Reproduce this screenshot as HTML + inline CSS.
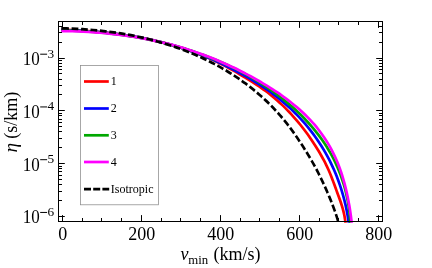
<!DOCTYPE html>
<html><head><meta charset="utf-8"><style>html,body{margin:0;padding:0;background:#fff}svg{display:block;will-change:transform}text{fill:#000}</style></head><body>
<svg width="432" height="268" viewBox="0 0 432 268">
<rect width="100%" height="100%" fill="#fff"/>
<defs><clipPath id="c"><rect x="58.50" y="21.50" width="324.00" height="201.20"/></clipPath></defs>
<g clip-path="url(#c)" fill="none" stroke-width="2.7" stroke-linejoin="round">
<path d="M61.33,29.78 C62.23,29.81 64.92,29.90 66.72,29.97 C68.51,30.04 70.31,30.12 72.11,30.20 C73.91,30.29 75.70,30.38 77.50,30.47 C79.30,30.57 81.10,30.68 82.90,30.79 C84.70,30.90 86.51,31.02 88.31,31.15 C90.11,31.28 91.91,31.42 93.71,31.57 C95.51,31.71 97.31,31.87 99.11,32.03 C100.91,32.19 102.71,32.37 104.51,32.55 C106.31,32.73 108.11,32.93 109.90,33.13 C111.70,33.33 113.50,33.54 115.29,33.77 C117.09,33.99 118.88,34.22 120.67,34.47 C122.46,34.71 124.25,34.96 126.04,35.23 C127.83,35.50 129.62,35.77 131.40,36.06 C133.19,36.35 134.97,36.65 136.75,36.97 C138.53,37.28 140.31,37.60 142.08,37.94 C143.86,38.28 145.63,38.63 147.40,38.99 C149.17,39.35 150.93,39.73 152.70,40.12 C154.46,40.51 156.22,40.91 157.97,41.33 C159.73,41.74 161.48,42.17 163.23,42.62 C164.98,43.06 166.73,43.52 168.47,44.00 C170.21,44.47 171.94,44.96 173.68,45.46 C175.41,45.96 177.14,46.48 178.86,47.01 C180.58,47.55 182.30,48.10 184.02,48.66 C185.73,49.23 187.44,49.81 189.14,50.41 C190.84,51.00 192.54,51.62 194.24,52.25 C195.93,52.88 197.62,53.53 199.30,54.19 C200.98,54.85 202.65,55.54 204.32,56.23 C205.99,56.93 207.65,57.65 209.30,58.38 C210.96,59.11 212.60,59.86 214.24,60.62 C215.87,61.39 217.50,62.17 219.12,62.97 C220.74,63.77 222.35,64.58 223.94,65.41 C225.54,66.24 227.13,67.09 228.70,67.96 C230.28,68.82 231.84,69.70 233.40,70.60 C234.95,71.49 236.49,72.42 238.02,73.33 C239.56,74.24 241.09,75.17 242.62,76.09 C244.16,77.01 245.69,77.92 247.22,78.85 C248.74,79.78 250.27,80.72 251.79,81.67 C253.31,82.62 254.83,83.59 256.33,84.57 C257.83,85.56 259.33,86.56 260.81,87.58 C262.29,88.61 263.76,89.65 265.21,90.72 C266.66,91.79 268.09,92.88 269.51,94.00 C270.92,95.11 272.32,96.25 273.70,97.41 C275.08,98.57 276.45,99.76 277.79,100.96 C279.14,102.16 280.46,103.39 281.77,104.63 C283.08,105.87 284.37,107.13 285.65,108.41 C286.92,109.69 288.18,110.99 289.42,112.30 C290.66,113.61 291.88,114.94 293.09,116.28 C294.29,117.63 295.48,118.99 296.65,120.36 C297.82,121.73 298.97,123.12 300.10,124.52 C301.23,125.92 302.35,127.33 303.45,128.76 C304.55,130.18 305.63,131.62 306.69,133.07 C307.76,134.52 308.80,135.98 309.83,137.45 C310.86,138.93 311.87,140.41 312.87,141.91 C313.86,143.41 314.84,144.92 315.80,146.44 C316.76,147.97 317.70,149.50 318.63,151.05 C319.55,152.59 320.46,154.15 321.35,155.72 C322.23,157.29 323.10,158.87 323.94,160.47 C324.79,162.06 325.61,163.67 326.40,165.29 C327.19,166.91 327.96,168.54 328.69,170.19 C329.42,171.83 330.12,173.50 330.79,175.17 C331.47,176.84 332.10,178.53 332.73,180.21 C333.37,181.90 333.97,183.60 334.59,185.29 C335.21,186.99 335.82,188.68 336.45,190.38 C337.07,192.07 337.71,193.76 338.32,195.45 C338.94,197.15 339.56,198.84 340.15,200.54 C340.73,202.24 341.31,203.95 341.84,205.67 C342.37,207.39 342.88,209.11 343.32,210.85 C343.77,212.60 344.18,214.35 344.52,216.13 C344.86,217.91 345.13,219.96 345.35,221.52 C345.56,223.08 345.72,224.83 345.80,225.49" stroke="#ff0000"/>
<path d="M61.32,30.15 C62.23,30.17 64.95,30.23 66.77,30.28 C68.59,30.33 70.41,30.39 72.23,30.46 C74.05,30.53 75.87,30.60 77.69,30.69 C79.51,30.78 81.33,30.87 83.15,30.97 C84.97,31.08 86.79,31.19 88.62,31.31 C90.44,31.44 92.26,31.57 94.08,31.71 C95.90,31.85 97.72,32.01 99.55,32.17 C101.37,32.33 103.19,32.50 105.01,32.69 C106.82,32.87 108.64,33.06 110.46,33.27 C112.28,33.47 114.09,33.69 115.91,33.91 C117.72,34.14 119.54,34.38 121.35,34.63 C123.16,34.87 124.97,35.13 126.78,35.41 C128.58,35.68 130.39,35.96 132.19,36.26 C134.00,36.56 135.80,36.86 137.60,37.19 C139.40,37.51 141.19,37.84 142.99,38.19 C144.78,38.53 146.57,38.89 148.36,39.26 C150.15,39.63 151.93,40.02 153.71,40.42 C155.49,40.82 157.27,41.23 159.04,41.65 C160.82,42.08 162.59,42.52 164.36,42.97 C166.12,43.42 167.88,43.89 169.64,44.37 C171.40,44.86 173.16,45.35 174.90,45.86 C176.65,46.37 178.40,46.90 180.14,47.44 C181.88,47.98 183.62,48.53 185.35,49.11 C187.08,49.68 188.80,50.26 190.52,50.86 C192.24,51.47 193.96,52.08 195.67,52.72 C197.38,53.35 199.08,54.00 200.78,54.67 C202.47,55.33 204.17,56.01 205.85,56.71 C207.54,57.40 209.22,58.11 210.90,58.84 C212.57,59.56 214.24,60.30 215.90,61.05 C217.57,61.80 219.22,62.57 220.88,63.34 C222.53,64.12 224.17,64.91 225.81,65.72 C227.45,66.52 229.09,67.34 230.72,68.16 C232.34,68.99 233.97,69.83 235.58,70.68 C237.20,71.53 238.81,72.39 240.41,73.26 C242.01,74.14 243.61,75.02 245.19,75.92 C246.78,76.82 248.36,77.73 249.93,78.66 C251.50,79.59 253.06,80.53 254.61,81.48 C256.16,82.44 257.70,83.41 259.23,84.39 C260.76,85.38 262.27,86.38 263.78,87.40 C265.28,88.42 266.78,89.46 268.26,90.51 C269.74,91.56 271.21,92.63 272.66,93.72 C274.11,94.81 275.55,95.91 276.98,97.03 C278.40,98.15 279.82,99.29 281.21,100.45 C282.61,101.60 283.99,102.78 285.35,103.97 C286.72,105.16 288.07,106.37 289.40,107.60 C290.73,108.82 292.05,110.07 293.34,111.33 C294.64,112.59 295.92,113.87 297.18,115.17 C298.45,116.46 299.69,117.78 300.92,119.11 C302.14,120.45 303.35,121.80 304.53,123.17 C305.72,124.54 306.89,125.92 308.04,127.33 C309.18,128.73 310.31,130.16 311.41,131.60 C312.52,133.04 313.60,134.49 314.67,135.97 C315.73,137.44 316.77,138.93 317.79,140.44 C318.81,141.94 319.81,143.46 320.78,145.00 C321.76,146.53 322.71,148.09 323.64,149.65 C324.57,151.22 325.48,152.80 326.36,154.39 C327.24,155.98 328.10,157.59 328.93,159.21 C329.77,160.83 330.58,162.46 331.37,164.10 C332.15,165.75 332.92,167.40 333.66,169.07 C334.40,170.74 335.11,172.42 335.80,174.10 C336.49,175.79 337.16,177.49 337.81,179.20 C338.45,180.90 339.07,182.62 339.66,184.35 C340.26,186.07 340.83,187.80 341.37,189.55 C341.92,191.29 342.44,193.03 342.94,194.79 C343.44,196.54 343.91,198.31 344.36,200.07 C344.80,201.84 345.23,203.62 345.63,205.39 C346.02,207.17 346.40,208.96 346.75,210.74 C347.09,212.53 347.42,214.32 347.72,216.12 C348.01,217.91 348.31,219.95 348.54,221.51 C348.76,223.07 348.99,224.81 349.08,225.47" stroke="#0000ff"/>
<path d="M61.59,30.51 C62.49,30.52 65.19,30.56 66.99,30.60 C68.80,30.64 70.60,30.69 72.41,30.75 C74.22,30.81 76.03,30.88 77.84,30.96 C79.65,31.04 81.46,31.13 83.28,31.23 C85.10,31.34 86.91,31.45 88.73,31.57 C90.55,31.69 92.37,31.82 94.20,31.96 C96.02,32.10 97.84,32.26 99.66,32.42 C101.49,32.58 103.31,32.76 105.14,32.94 C106.96,33.13 108.79,33.32 110.61,33.53 C112.44,33.74 114.26,33.96 116.09,34.19 C117.91,34.41 119.74,34.66 121.56,34.91 C123.39,35.16 125.21,35.42 127.03,35.70 C128.86,35.97 130.68,36.26 132.50,36.56 C134.32,36.86 136.14,37.17 137.95,37.49 C139.77,37.81 141.59,38.14 143.40,38.49 C145.22,38.84 147.03,39.19 148.84,39.56 C150.65,39.93 152.46,40.32 154.26,40.71 C156.06,41.11 157.87,41.51 159.67,41.93 C161.47,42.35 163.26,42.79 165.05,43.23 C166.85,43.68 168.64,44.13 170.42,44.61 C172.21,45.08 173.99,45.56 175.77,46.06 C177.55,46.55 179.32,47.06 181.09,47.59 C182.86,48.11 184.63,48.65 186.39,49.20 C188.15,49.75 189.90,50.31 191.66,50.89 C193.41,51.47 195.15,52.06 196.89,52.66 C198.63,53.26 200.37,53.88 202.10,54.51 C203.83,55.15 205.55,55.79 207.27,56.45 C208.99,57.11 210.70,57.79 212.41,58.48 C214.11,59.16 215.81,59.87 217.50,60.58 C219.19,61.30 220.88,62.03 222.56,62.78 C224.24,63.52 225.91,64.29 227.57,65.06 C229.24,65.84 230.89,66.63 232.54,67.43 C234.19,68.24 235.83,69.06 237.47,69.89 C239.10,70.73 240.72,71.58 242.34,72.44 C243.96,73.31 245.56,74.19 247.16,75.09 C248.76,75.98 250.35,76.90 251.93,77.82 C253.52,78.75 255.09,79.69 256.65,80.65 C258.21,81.61 259.77,82.59 261.31,83.58 C262.86,84.57 264.39,85.57 265.91,86.60 C267.44,87.62 268.95,88.66 270.45,89.71 C271.96,90.77 273.45,91.84 274.93,92.93 C276.41,94.02 277.88,95.12 279.34,96.24 C280.80,97.36 282.25,98.50 283.69,99.65 C285.12,100.81 286.55,101.98 287.96,103.17 C289.36,104.35 290.76,105.56 292.14,106.78 C293.52,108.00 294.88,109.24 296.23,110.49 C297.58,111.74 298.91,113.02 300.23,114.30 C301.54,115.59 302.84,116.90 304.11,118.22 C305.39,119.54 306.65,120.88 307.89,122.23 C309.13,123.59 310.35,124.96 311.54,126.35 C312.74,127.74 313.91,129.14 315.07,130.56 C316.22,131.99 317.35,133.42 318.45,134.88 C319.56,136.34 320.64,137.81 321.70,139.30 C322.75,140.79 323.79,142.30 324.79,143.82 C325.79,145.35 326.77,146.89 327.72,148.45 C328.67,150.01 329.60,151.58 330.49,153.17 C331.38,154.77 332.25,156.38 333.09,158.00 C333.92,159.62 334.73,161.27 335.51,162.92 C336.29,164.58 337.04,166.25 337.76,167.93 C338.48,169.62 339.17,171.31 339.83,173.03 C340.49,174.74 341.13,176.46 341.73,178.20 C342.33,179.94 342.90,181.69 343.44,183.45 C343.99,185.21 344.50,186.98 344.98,188.76 C345.46,190.54 345.91,192.34 346.33,194.14 C346.75,195.94 347.14,197.76 347.50,199.58 C347.86,201.40 348.19,203.23 348.48,205.07 C348.78,206.90 349.05,208.75 349.28,210.60 C349.51,212.45 349.72,214.31 349.89,216.18 C350.06,218.04 350.20,220.19 350.30,221.79 C350.41,223.39 350.49,225.12 350.53,225.79" stroke="#00a800"/>
<path d="M61.32,31.05 C62.24,31.06 65.00,31.08 66.85,31.11 C68.69,31.14 70.54,31.18 72.38,31.23 C74.23,31.28 76.08,31.34 77.92,31.41 C79.77,31.48 81.62,31.56 83.46,31.65 C85.31,31.74 87.16,31.84 89.01,31.95 C90.85,32.06 92.70,32.18 94.55,32.32 C96.39,32.45 98.24,32.59 100.08,32.74 C101.93,32.90 103.77,33.06 105.62,33.24 C107.46,33.41 109.30,33.60 111.14,33.80 C112.99,34.00 114.83,34.20 116.67,34.42 C118.50,34.64 120.34,34.88 122.18,35.12 C124.01,35.36 125.85,35.62 127.68,35.89 C129.51,36.15 131.34,36.43 133.17,36.72 C135.00,37.01 136.83,37.32 138.65,37.63 C140.47,37.95 142.30,38.28 144.12,38.62 C145.93,38.96 147.75,39.31 149.57,39.67 C151.38,40.04 153.19,40.42 155.00,40.81 C156.81,41.20 158.61,41.60 160.41,42.02 C162.21,42.43 164.01,42.86 165.81,43.30 C167.60,43.75 169.39,44.20 171.18,44.67 C172.97,45.14 174.75,45.62 176.53,46.12 C178.31,46.62 180.09,47.13 181.86,47.65 C183.63,48.17 185.40,48.71 187.16,49.26 C188.92,49.81 190.68,50.38 192.44,50.96 C194.19,51.54 195.94,52.13 197.68,52.74 C199.43,53.35 201.17,53.97 202.90,54.61 C204.64,55.24 206.36,55.89 208.09,56.56 C209.81,57.22 211.53,57.90 213.24,58.59 C214.96,59.28 216.67,59.99 218.37,60.71 C220.07,61.43 221.77,62.16 223.46,62.91 C225.15,63.66 226.84,64.42 228.51,65.19 C230.19,65.96 231.87,66.75 233.54,67.55 C235.20,68.35 236.87,69.16 238.52,69.99 C240.18,70.81 241.83,71.65 243.47,72.50 C245.11,73.35 246.75,74.22 248.38,75.09 C250.01,75.97 251.63,76.86 253.25,77.76 C254.87,78.66 256.48,79.58 258.08,80.50 C259.69,81.43 261.28,82.37 262.87,83.32 C264.46,84.27 266.05,85.23 267.62,86.21 C269.20,87.19 270.77,88.17 272.32,89.17 C273.88,90.18 275.43,91.19 276.97,92.22 C278.51,93.26 280.03,94.30 281.55,95.36 C283.06,96.43 284.56,97.51 286.05,98.61 C287.53,99.70 289.01,100.82 290.46,101.96 C291.92,103.09 293.36,104.25 294.78,105.42 C296.20,106.60 297.60,107.79 298.99,109.01 C300.37,110.23 301.74,111.47 303.08,112.73 C304.42,114.00 305.75,115.28 307.04,116.59 C308.34,117.90 309.62,119.24 310.86,120.59 C312.11,121.95 313.33,123.33 314.53,124.73 C315.72,126.14 316.89,127.56 318.03,129.01 C319.17,130.46 320.28,131.93 321.36,133.42 C322.45,134.92 323.50,136.43 324.52,137.96 C325.54,139.50 326.53,141.05 327.49,142.62 C328.45,144.19 329.38,145.79 330.27,147.40 C331.17,149.01 332.03,150.64 332.85,152.28 C333.68,153.93 334.48,155.59 335.24,157.27 C336.00,158.95 336.73,160.64 337.43,162.35 C338.13,164.05 338.80,165.78 339.45,167.51 C340.09,169.24 340.70,170.99 341.29,172.74 C341.87,174.50 342.43,176.26 342.96,178.04 C343.50,179.81 344.00,181.60 344.48,183.38 C344.97,185.17 345.42,186.97 345.86,188.77 C346.30,190.58 346.71,192.38 347.10,194.19 C347.49,196.00 347.86,197.82 348.21,199.64 C348.56,201.45 348.89,203.27 349.21,205.09 C349.52,206.91 349.81,208.74 350.09,210.56 C350.36,212.38 350.62,214.20 350.87,216.01 C351.11,217.83 351.36,219.89 351.55,221.46 C351.75,223.03 351.94,224.77 352.02,225.43" stroke="#ff00ff"/>
<g transform="scale(1,1.050)"><path d="M61.31,27.02 C62.19,27.04 64.83,27.10 66.59,27.14 C68.35,27.19 70.11,27.25 71.87,27.32 C73.63,27.38 75.39,27.46 77.15,27.54 C78.91,27.63 80.66,27.72 82.42,27.83 C84.18,27.93 85.93,28.05 87.69,28.17 C89.44,28.29 91.20,28.43 92.95,28.57 C94.70,28.72 96.45,28.88 98.20,29.04 C99.95,29.21 101.70,29.39 103.45,29.57 C105.20,29.76 106.94,29.96 108.69,30.18 C110.43,30.39 112.17,30.61 113.92,30.85 C115.66,31.08 117.39,31.33 119.13,31.59 C120.87,31.85 122.60,32.12 124.33,32.40 C126.07,32.69 127.80,32.98 129.52,33.29 C131.25,33.61 132.98,33.93 134.70,34.26 C136.42,34.60 138.14,34.95 139.86,35.31 C141.58,35.67 143.29,36.05 145.00,36.44 C146.72,36.82 148.42,37.23 150.13,37.64 C151.83,38.05 153.54,38.48 155.23,38.92 C156.93,39.37 158.63,39.82 160.32,40.29 C162.01,40.76 163.70,41.24 165.38,41.73 C167.07,42.23 168.75,42.74 170.42,43.26 C172.10,43.79 173.77,44.32 175.43,44.87 C177.10,45.42 178.76,45.99 180.42,46.57 C182.07,47.15 183.72,47.74 185.37,48.35 C187.01,48.95 188.65,49.57 190.28,50.21 C191.91,50.84 193.54,51.49 195.16,52.16 C196.77,52.82 198.39,53.50 199.99,54.19 C201.60,54.89 203.19,55.60 204.78,56.32 C206.37,57.04 207.95,57.78 209.53,58.53 C211.10,59.28 212.67,60.05 214.22,60.83 C215.78,61.61 217.33,62.41 218.87,63.22 C220.40,64.03 221.93,64.86 223.45,65.70 C224.97,66.54 226.48,67.40 227.98,68.27 C229.48,69.15 230.97,70.03 232.45,70.94 C233.93,71.84 235.40,72.76 236.86,73.69 C238.32,74.63 239.76,75.58 241.20,76.54 C242.63,77.51 244.06,78.49 245.47,79.49 C246.88,80.48 248.28,81.50 249.67,82.52 C251.05,83.55 252.43,84.59 253.79,85.65 C255.15,86.71 256.50,87.78 257.83,88.87 C259.17,89.96 260.49,91.07 261.79,92.18 C263.10,93.30 264.39,94.44 265.67,95.59 C266.95,96.73 268.21,97.90 269.46,99.08 C270.71,100.25 271.94,101.45 273.16,102.65 C274.38,103.86 275.58,105.08 276.77,106.32 C277.95,107.56 279.12,108.81 280.28,110.07 C281.43,111.34 282.57,112.62 283.69,113.91 C284.81,115.20 285.91,116.51 286.99,117.83 C288.08,119.15 289.15,120.49 290.21,121.83 C291.26,123.18 292.30,124.53 293.32,125.90 C294.35,127.27 295.36,128.64 296.36,130.03 C297.36,131.41 298.35,132.80 299.32,134.20 C300.30,135.60 301.26,137.01 302.21,138.42 C303.17,139.83 304.11,141.24 305.04,142.66 C305.98,144.08 306.90,145.50 307.81,146.93 C308.73,148.36 309.63,149.80 310.52,151.24 C311.40,152.68 312.28,154.13 313.14,155.58 C314.01,157.04 314.86,158.50 315.69,159.97 C316.52,161.44 317.34,162.92 318.15,164.41 C318.95,165.90 319.74,167.39 320.51,168.90 C321.29,170.40 322.04,171.92 322.79,173.44 C323.54,174.95 324.27,176.48 325.00,178.01 C325.73,179.54 326.45,181.08 327.15,182.62 C327.86,184.16 328.56,185.70 329.24,187.25 C329.92,188.80 330.60,190.35 331.25,191.91 C331.90,193.47 332.54,195.03 333.16,196.60 C333.78,198.17 334.38,199.75 334.96,201.33 C335.54,202.91 336.09,204.50 336.62,206.09 C337.15,207.69 337.71,209.49 338.14,210.90 C338.57,212.31 339.05,213.95 339.23,214.56" stroke="#000" stroke-width="2.62" stroke-dasharray="7.6,2.7,6.75,2.7,6.75,2.7,6.75,2.7,6.75,2.7,6.75,2.7,6.75,2.7,6.75,2.7,6.75,2.7,6.75,2.7,6.75,2.7,6.75,2.7,6.75,2.7,6.75,2.7,6.75,2.7,6.75,2.7,6.75,2.7,6.75,2.7,6.75,2.7,6.75,2.7,6.75,2.7,6.75,2.7,6.75,2.7,6.75,2.7,6.75,2.7,6.75,2.7,6.75,2.7,6.75,2.7,6.75,2.7,6.75,2.7,6.75,2.7,6.75,2.7,6.75,2.7,6.75,2.7,6.75,2.7,6.75,2.7,6.75,2.7,6.75,2.7,6.75,2.7,6.75,2.7,6.75,2.7,6.75,2.7,6.75,2.7,6.75,2.7,6.75,2.7"/></g>
</g>
<rect x="58.50" y="21.50" width="324.00" height="200.00" fill="none" stroke="#000" stroke-width="1"/>
<path d="M62.50,221.50v-6.40M62.50,21.50v6.40M82.50,221.50v-3.50M82.50,21.50v3.50M101.50,221.50v-3.50M101.50,21.50v3.50M121.50,221.50v-3.50M121.50,21.50v3.50M141.50,221.50v-6.40M141.50,21.50v6.40M161.50,221.50v-3.50M161.50,21.50v3.50M180.50,221.50v-3.50M180.50,21.50v3.50M200.50,221.50v-3.50M200.50,21.50v3.50M220.50,221.50v-6.40M220.50,21.50v6.40M240.50,221.50v-3.50M240.50,21.50v3.50M259.50,221.50v-3.50M259.50,21.50v3.50M279.50,221.50v-3.50M279.50,21.50v3.50M299.50,221.50v-6.40M299.50,21.50v6.40M319.50,221.50v-3.50M319.50,21.50v3.50M338.50,221.50v-3.50M338.50,21.50v3.50M358.50,221.50v-3.50M358.50,21.50v3.50M378.50,221.50v-6.40M378.50,21.50v6.40M58.50,216.50h6.30M382.50,216.50h-6.30M58.50,200.50h3.50M382.50,200.50h-3.50M58.50,191.50h3.50M382.50,191.50h-3.50M58.50,184.50h3.50M382.50,184.50h-3.50M58.50,179.50h3.50M382.50,179.50h-3.50M58.50,175.50h3.50M382.50,175.50h-3.50M58.50,171.50h3.50M382.50,171.50h-3.50M58.50,168.50h3.50M382.50,168.50h-3.50M58.50,166.50h3.50M382.50,166.50h-3.50M58.50,163.50h6.30M382.50,163.50h-6.30M58.50,147.50h3.50M382.50,147.50h-3.50M58.50,138.50h3.50M382.50,138.50h-3.50M58.50,131.50h3.50M382.50,131.50h-3.50M58.50,126.50h3.50M382.50,126.50h-3.50M58.50,122.50h3.50M382.50,122.50h-3.50M58.50,119.50h3.50M382.50,119.50h-3.50M58.50,115.50h3.50M382.50,115.50h-3.50M58.50,113.50h3.50M382.50,113.50h-3.50M58.50,110.50h6.30M382.50,110.50h-6.30M58.50,94.50h3.50M382.50,94.50h-3.50M58.50,85.50h3.50M382.50,85.50h-3.50M58.50,79.50h3.50M382.50,79.50h-3.50M58.50,73.50h3.50M382.50,73.50h-3.50M58.50,69.50h3.50M382.50,69.50h-3.50M58.50,66.50h3.50M382.50,66.50h-3.50M58.50,63.50h3.50M382.50,63.50h-3.50M58.50,60.50h3.50M382.50,60.50h-3.50M58.50,58.50h6.30M382.50,58.50h-6.30M58.50,42.50h3.50M382.50,42.50h-3.50M58.50,32.50h3.50M382.50,32.50h-3.50M58.50,26.50h3.50M382.50,26.50h-3.50" stroke="#000" stroke-width="1" fill="none"/>
<text x="62.70" y="239.7" font-family="Liberation Serif" font-size="18" text-anchor="middle">0</text>
<text x="141.72" y="239.7" font-family="Liberation Serif" font-size="18" text-anchor="middle">200</text>
<text x="220.74" y="239.7" font-family="Liberation Serif" font-size="18" text-anchor="middle">400</text>
<text x="299.76" y="239.7" font-family="Liberation Serif" font-size="18" text-anchor="middle">600</text>
<text x="378.78" y="239.7" font-family="Liberation Serif" font-size="18" text-anchor="middle">800</text>
<text x="22.7" y="65.10" font-family="Liberation Serif" font-size="18" textLength="17" lengthAdjust="spacingAndGlyphs">10</text>
<path d="M40.2,54.20H47.1" stroke="#000" stroke-width="1"/>
<text x="47.5" y="57.70" font-family="Liberation Serif" font-size="13.3">3</text>
<text x="22.7" y="117.85" font-family="Liberation Serif" font-size="18" textLength="17" lengthAdjust="spacingAndGlyphs">10</text>
<path d="M40.2,106.95H47.1" stroke="#000" stroke-width="1"/>
<text x="47.5" y="110.45" font-family="Liberation Serif" font-size="13.3">4</text>
<text x="22.7" y="170.60" font-family="Liberation Serif" font-size="18" textLength="17" lengthAdjust="spacingAndGlyphs">10</text>
<path d="M40.2,159.70H47.1" stroke="#000" stroke-width="1"/>
<text x="47.5" y="163.20" font-family="Liberation Serif" font-size="13.3">5</text>
<text x="22.7" y="223.35" font-family="Liberation Serif" font-size="18" textLength="17" lengthAdjust="spacingAndGlyphs">10</text>
<path d="M40.2,212.45H47.1" stroke="#000" stroke-width="1"/>
<text x="47.5" y="215.95" font-family="Liberation Serif" font-size="13.3">6</text>
<text x="180.6" y="260" font-family="Liberation Serif" font-size="18" font-style="italic">v</text>
<text x="188.3" y="263.5" font-family="Liberation Serif" font-size="12.8">min</text>
<text x="213.6" y="260" font-family="Liberation Serif" font-size="18" >(km/s)</text>
<g transform="translate(17.1,152.4) rotate(-90)"><text x="0" y="0" font-family="Liberation Serif" font-size="18"><tspan font-style="italic" font-size="19.5">η</tspan><tspan dx="-0.6"> (s/km)</tspan></text></g>
<rect x="80.5" y="65.6" width="78" height="139.2" fill="#fff" stroke="#8a8a8a" stroke-width="0.75"/>
<path d="M84,81.50H108.8" stroke="#ff0000" stroke-width="2.7"/>
<path d="M84,108.50H108.8" stroke="#0000ff" stroke-width="2.7"/>
<path d="M84,135.30H108.8" stroke="#00a800" stroke-width="2.7"/>
<path d="M84,162.00H108.8" stroke="#ff00ff" stroke-width="2.7"/>
<path d="M84,189.20H109.2" stroke="#000" stroke-width="2.7" stroke-dasharray="7,2.2"/>
<text x="110.8" y="85.30" font-family="Liberation Serif" font-size="12">1</text>
<text x="110.8" y="112.30" font-family="Liberation Serif" font-size="12">2</text>
<text x="110.8" y="139.10" font-family="Liberation Serif" font-size="12">3</text>
<text x="110.8" y="165.80" font-family="Liberation Serif" font-size="12">4</text>
<text x="110.8" y="193.00" font-family="Liberation Serif" font-size="12">Isotropic</text>
</svg>
</body></html>
